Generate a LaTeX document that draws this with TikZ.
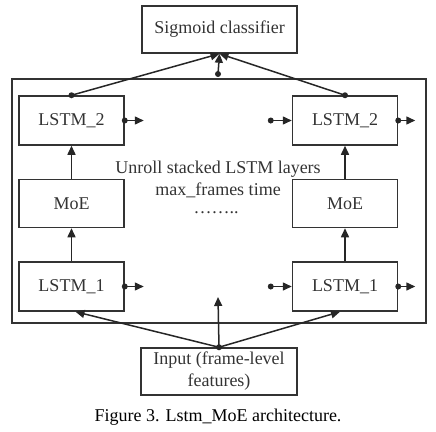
\documentclass[tikz,border=0pt]{standalone}
\usepackage{fontspec}
\setmainfont{Liberation Serif}
\usetikzlibrary{positioning,arrows.meta}

\begin{document}
\begin{tikzpicture}[
    x=1pt, y=-1pt,
    every node/.style={font=\fontsize{18}{22}\selectfont, text=black!80},
    box/.style={draw=black!80, line width=1.5pt, inner sep=0pt, minimum height=49pt},
    cell/.style={box, minimum width=105pt},
    conn/.style={-{Triangle[length=9pt,width=8pt]}, line width=1.5pt, draw=black!85},
    blob/.style={fill=black!85}
]
    \useasboundingbox (0,0) rectangle (436,431);

    % Classifier and outer frame
    \node[box, minimum width=155pt, minimum height=47pt] (sig) at (219.5,29.5) {Sigmoid classifier};
    \node[box, minimum width=414pt, minimum height=244pt] (frame) at (219,201) {};

    % Left column
    \node[cell] (lstmTwoL) at (71.5,120.5) {LSTM\_2};
    \node[cell, minimum height=48pt, below=33pt of lstmTwoL] (moeL) {MoE};
    \node[cell, below=33pt of moeL] (lstmOneL) {LSTM\_1};

    % Right column
    \node[cell, right=167pt of lstmTwoL] (lstmTwoR) {LSTM\_2};
    \node[cell, minimum height=48pt, below=33pt of lstmTwoR] (moeR) {MoE};
    \node[cell, below=33pt of moeR] (lstmOneR) {LSTM\_1};

    % Input
    \node[box, minimum width=156pt, minimum height=47pt, align=center] (inp) at (219,371.5) {Input (frame-level\\features)};

    % Middle texts
    \node (unroll) at (218,169) {Unroll stacked LSTM layers};
    \node (maxf) at (218,190) {max\_frames time};
    \node (dots) at (216,213) {……..};
    \node[text=black] (caption) at (218,417) {Figure 3. Lstm\_MoE architecture.};

    % Up the columns
    \draw[conn] (lstmOneL) -- (moeL);
    \draw[conn] (moeL) -- (lstmTwoL);
    \draw[conn] (lstmOneR) -- (moeR);
    \draw[conn] (moeR) -- (lstmTwoR);

    % Into the classifier
    \coordinate (topdot) at (218,74);
    \draw[conn] (lstmTwoL.north) -- (sig.south);
    \draw[conn] (lstmTwoR.north) -- (sig.south);
    \draw[conn] (topdot) -- (sig.south);
    \fill[blob] (lstmTwoL.north) circle (3pt) (lstmTwoR.north) circle (3pt) (topdot) circle (3pt);

    % Time steps
    \coordinate[right=19pt of lstmTwoL.east] (outTwoL);
    \coordinate[right=19pt of lstmOneL.east] (outOneL);
    \coordinate[left=21pt of lstmTwoR.west] (inTwoR);
    \coordinate[left=21pt of lstmOneR.west] (inOneR);
    \coordinate[right=17pt of lstmTwoR.east] (outTwoR);
    \coordinate[right=17pt of lstmOneR.east] (outOneR);
    \draw[conn] (lstmTwoL.east) -- (outTwoL);
    \draw[conn] (lstmOneL.east) -- (outOneL);
    \draw[conn] (inTwoR) -- (lstmTwoR.west);
    \draw[conn] (inOneR) -- (lstmOneR.west);
    \draw[conn] (lstmTwoR.east) -- (outTwoR);
    \draw[conn] (lstmOneR.east) -- (outOneR);
    \fill[blob] (lstmTwoL.east) circle (3pt) (lstmOneL.east) circle (3pt)
                (inTwoR) circle (3pt) (inOneR) circle (3pt)
                (lstmTwoR.east) circle (3pt) (lstmOneR.east) circle (3pt);

    % From the input
    \coordinate (midtip) at (218,297);
    \draw[conn] (inp.north) -- ([xshift=4pt]lstmOneL.south);
    \draw[conn] (inp.north) -- ([xshift=-5pt]lstmOneR.south);
    \draw[conn] (inp.north) -- (midtip);
    \fill[blob] (inp.north) circle (3pt);
\end{tikzpicture}
\end{document}
